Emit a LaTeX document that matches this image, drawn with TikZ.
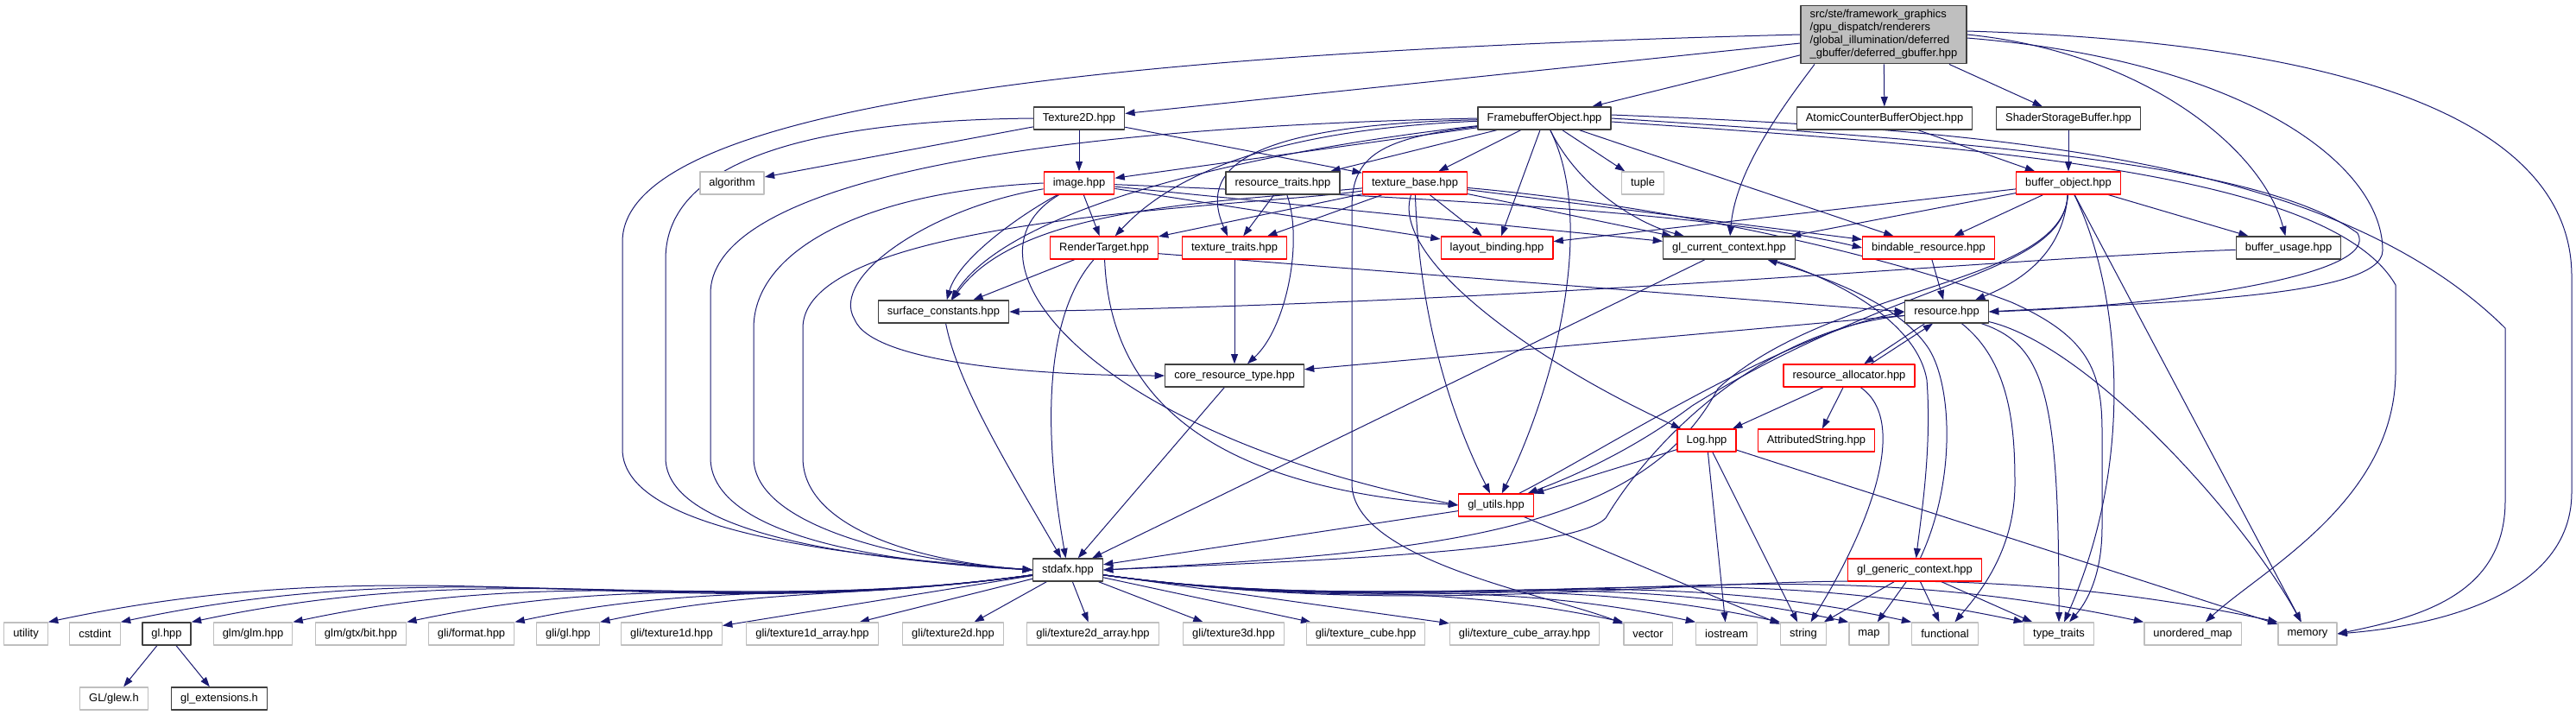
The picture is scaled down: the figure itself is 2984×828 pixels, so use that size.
\documentclass[tikz,border=0pt]{standalone}
\usepackage{fontspec}
\setmainfont{Liberation Sans}
\usetikzlibrary{arrows.meta}
\definecolor{dgEdge}{HTML}{191970}
\definecolor{dgGray}{HTML}{BFBFBF}
\definecolor{dgInk}{HTML}{404040}
\pgfdeclarelayer{wires}
\pgfsetlayers{wires,main}
\tikzset{
 incgraph/.style={x=.75pt,y=-.75pt,font=\fontsize{9.7}{11.2}\selectfont,line join=round},
 hdr/.style={rectangle,draw=dgInk,fill=white,line width=1pt,inner xsep=7.9pt,inner ysep=0pt,minimum height=19.5pt},
 hdrcut/.style={hdr,draw=red},
 hdrsys/.style={hdr,draw=dgGray},
 hdrtop/.style={hdr,fill=dgGray,align=left,inner ysep=4pt},
 dep/.style={draw=dgEdge,line width=.75pt,-{Triangle[length=8.5pt,width=6pt]}}
}

\begin{document}
\begin{tikzpicture}[incgraph]
 \useasboundingbox (0,0) rectangle (2984,828);
 % files, row by row
 \node[hdrtop] (root) at (2182,40) {src/ste/framework\_graphics\\/gpu\_dispatch/renderers\\/global\_illumination/deferred\\\_gbuffer/deferred\_gbuffer.hpp};
 \node[hdr] (tex2d) at (1250,137) {Texture2D.hpp};
 \node[hdr] (fbo) at (1789,137) {FramebufferObject.hpp};
 \node[hdr] (acbo) at (2183,137) {AtomicCounterBufferObject.hpp};
 \node[hdr] (ssbo) at (2396,137) {ShaderStorageBuffer.hpp};
 \node[hdrsys] (algo) at (848,212) {algorithm};
 \node[hdrcut] (image) at (1250,212) {image.hpp};
 \node[hdr] (restraits) at (1486,212) {resource\_traits.hpp};
 \node[hdrcut] (texbase) at (1639,212) {texture\_base.hpp};
 \node[hdrsys] (tuple) at (1903,212) {tuple};
 \node[hdrcut] (bufobj) at (2396,212) {buffer\_object.hpp};
 \node[hdrcut] (rtarget) at (1279,287) {RenderTarget.hpp};
 \node[hdrcut] (textraits) at (1430,287) {texture\_traits.hpp};
 \node[hdrcut] (layout) at (1734,287) {layout\_binding.hpp};
 \node[hdr] (glctx) at (2003,287) {gl\_current\_context.hpp};
 \node[hdrcut] (bindable) at (2234,287) {bindable\_resource.hpp};
 \node[hdr] (bufusage) at (2651,287) {buffer\_usage.hpp};
 \node[hdr] (surface) at (1093,361) {surface\_constants.hpp};
 \node[hdr] (resource) at (2255,361) {resource.hpp};
 \node[hdr] (coretype) at (1430,435) {core\_resource\_type.hpp};
 \node[hdrcut] (resalloc) at (2142,435) {resource\_allocator.hpp};
 \node[hdrcut] (logh) at (1977,510) {Log.hpp};
 \node[hdrcut] (attrstr) at (2104,510) {AttributedString.hpp};
 \node[hdrcut] (glutils) at (1733,585) {gl\_utils.hpp};
 \node[hdr] (stdafx) at (1237,660) {stdafx.hpp};
 \node[hdrcut] (glgen) at (2218,660) {gl\_generic\_context.hpp};
 % system headers
 \node[hdrsys] (utility) at (30,734) {utility};
 \node[hdrsys] (cstdint) at (110,734) {cstdint};
 \node[hdr] (glhpp) at (193,734) {gl.hpp};
 \node[hdrsys] (glmglm) at (293,734) {glm/glm.hpp};
 \node[hdrsys] (glmbit) at (418,734) {glm/gtx/bit.hpp};
 \node[hdrsys] (gliformat) at (546,734) {gli/format.hpp};
 \node[hdrsys] (gligl) at (658,734) {gli/gl.hpp};
 \node[hdrsys] (glitexa) at (778,734) {gli/texture1d.hpp};
 \node[hdrsys] (glitexb) at (941,734) {gli/texture1d\_array.hpp};
 \node[hdrsys] (glitexc) at (1104,734) {gli/texture2d.hpp};
 \node[hdrsys] (glitexd) at (1266,734) {gli/texture2d\_array.hpp};
 \node[hdrsys] (glitexe) at (1429,734) {gli/texture3d.hpp};
 \node[hdrsys] (glitexf) at (1582,734) {gli/texture\_cube.hpp};
 \node[hdrsys] (glitexg) at (1766,734) {gli/texture\_cube\_array.hpp};
 \node[hdrsys] (vector) at (1909,734) {vector};
 \node[hdrsys] (iostream) at (2000,734) {iostream};
 \node[hdrsys] (string) at (2089,734) {string};
 \node[hdrsys] (map) at (2165,734) {map};
 \node[hdrsys] (functional) at (2253,734) {functional};
 \node[hdrsys] (typetraits) at (2385,734) {type\_traits};
 \node[hdrsys] (unordmap) at (2540,734) {unordered\_map};
 \node[hdrsys] (memory) at (2673,734) {memory};
 \node[hdrsys] (glew) at (132,809) {GL/glew.h};
 \node[hdr] (glext) at (254,809) {gl\_extensions.h};

 \begin{pgfonlayer}{wires}
 % deferred_gbuffer.hpp
 \draw[dep] (root.west) .. controls (1300,60) and (721,120) .. (721,280) -- (721,520) .. controls (721,620) and (1000,645) .. (stdafx.west);
 \draw[dep] (root) -- (tex2d);
 \draw[dep] (root) -- (fbo);
 \draw[dep] ([xshift=-60pt]root.south) .. controls (2060,130) and (2010,200) .. (glctx);
 \draw[dep] (root) -- (acbo);
 \draw[dep] (root) -- (ssbo);
 \draw[dep] (root.east) .. controls (2480,60) and (2620,170) .. (bufusage);
 \draw[dep] ([yshift=-3pt]root.east) .. controls (2600,70) and (2760,190) .. (2760,290) .. controls (2760,345) and (2500,350) .. (resource.east);
 \draw[dep] ([yshift=3pt]root.east) .. controls (2750,50) and (2979,150) .. (2979,320) -- (2979,570) .. controls (2979,690) and (2820,725) .. (memory.east);
 % FramebufferObject.hpp
 \draw[dep] (fbo.west) .. controls (1100,150) and (823,230) .. (823,340) -- (823,530) .. controls (823,615) and (1000,650) .. (stdafx.west);
 \draw[dep] (fbo) -- (image);
 \draw[dep] (fbo) .. controls (1480,150) and (1360,200) .. (rtarget);
 \draw[dep] (fbo) .. controls (1430,145) and (1390,200) .. ([xshift=-6pt]textraits.north);
 \draw[dep] (fbo) -- (restraits);
 \draw[dep] (fbo) -- (texbase);
 \draw[dep] (fbo) -- (layout);
 \draw[dep] (fbo) -- (tuple);
 \draw[dep] (fbo) .. controls (1830,220) and (1900,260) .. (glctx);
 \draw[dep] (fbo) -- (bindable);
 \draw[dep] (fbo) .. controls (1850,260) and (1800,450) .. (glutils);
 \draw[dep] (fbo) .. controls (1450,175) and (1170,240) .. (surface);
 \draw[dep] (fbo.east) .. controls (2300,165) and (2620,190) .. (2731,270) .. controls (2760,320) and (2500,355) .. (resource.east);
 \draw[dep] ([yshift=3pt]fbo.east) .. controls (2300,150) and (2700,180) .. (2902,380) -- (2902,580) .. controls (2902,690) and (2800,715) .. (memory.east);
 \draw[dep] ([yshift=-3pt]fbo.east) .. controls (2300,170) and (2700,200) .. (2775,330) -- (2775,430) .. controls (2775,580) and (2620,660) .. (unordmap);
 \draw[dep] (fbo) .. controls (1600,160) and (1566,180) .. (1566,240) -- (1566,560) .. controls (1566,650) and (1800,690) .. (vector);
 % Texture2D.hpp
 \draw[dep] (tex2d.west) .. controls (900,140) and (771,200) .. (771,300) -- (771,530) .. controls (771,620) and (1000,648) .. (stdafx.west);
 \draw[dep] (tex2d) -- (algo);
 \draw[dep] (tex2d) -- (image);
 \draw[dep] (tex2d) -- (texbase);
 % image.hpp
 \draw[dep] (image.west) .. controls (1000,222) and (873,290) .. (873,380) -- (873,530) .. controls (873,610) and (1050,650) .. (stdafx.west);
 \draw[dep] (image) -- (rtarget);
 \draw[dep] (image) .. controls (1180,250) and (1110,300) .. (surface);
 \draw[dep] (image) .. controls (1080,240) and (960,320) .. (990,370) .. controls (1010,420) and (1200,435) .. (coretype.west);
 \draw[dep] (image) .. controls (1100,300) and (1260,500) .. (glutils.west);
 \draw[dep] (image) -- (layout);
 \draw[dep] (image) -- (glctx);
 \draw[dep] (image) .. controls (1700,230) and (2000,250) .. (bindable.west);
 % texture_base.hpp
 \draw[dep] (texbase) .. controls (1450,240) and (930,250) .. (930,380) -- (930,530) .. controls (930,610) and (1060,650) .. (stdafx.west);
 \draw[dep] (texbase) -- (textraits);
 \draw[dep] (texbase) -- (rtarget);
 \draw[dep] (texbase) .. controls (1400,235) and (1180,240) .. (surface);
 \draw[dep] (texbase) -- (layout);
 \draw[dep] (texbase) -- (glctx);
 \draw[dep] (texbase) -- (bindable);
 \draw[dep] (texbase) .. controls (1610,300) and (1780,420) .. (logh);
 \draw[dep] (texbase) .. controls (1645,400) and (1700,520) .. (glutils);
 \draw[dep] (texbase) .. controls (1950,240) and (2200,300) .. (2330,350) .. controls (2420,390) and (2435,430) .. (2435,500) -- (2435,610) .. controls (2435,670) and (2415,700) .. (typetraits);
 % resource_traits.hpp, texture_traits.hpp
 \draw[dep] (restraits) -- (textraits);
 \draw[dep] (restraits) .. controls (1510,280) and (1490,380) .. (coretype);
 \draw[dep] (textraits) -- (coretype);
 % RenderTarget.hpp
 \draw[dep] (rtarget) -- (surface);
 \draw[dep] (rtarget) .. controls (1215,360) and (1205,480) .. (stdafx);
 \draw[dep] (rtarget) .. controls (1285,430) and (1360,560) .. (glutils.west);
 \draw[dep] ([yshift=-5pt]rtarget.east) -- (resource.west);
 % small ones
 \draw[dep] (surface) .. controls (1110,450) and (1180,560) .. (stdafx);
 \draw[dep] (coretype) -- (stdafx);
 \draw[dep] (bindable) -- (resource);
 % gl_current_context.hpp, gl_generic_context.hpp
 \draw[dep] (glctx) -- (stdafx);
 \draw[dep] (glctx) .. controls (2120,320) and (2220,370) .. (2232,440) .. controls (2238,520) and (2225,600) .. (glgen);
 \draw[dep] (glgen) .. controls (2265,560) and (2262,450) .. (2235,405) .. controls (2200,350) and (2110,320) .. (glctx);
 \draw[dep] (glgen) -- (string);
 \draw[dep] (glgen) -- (map);
 \draw[dep] (glgen) -- (functional);
 \draw[dep] (glgen) -- (typetraits);
 % resource.hpp, resource_allocator.hpp
 \draw[dep] (resource) -- (coretype);
 \draw[dep] ([xshift=-19pt]resource.south) -- ([xshift=13pt]resalloc.north);
 \draw[dep] ([xshift=19pt]resalloc.north) -- ([xshift=-12pt]resource.south);
 \draw[dep] (resource) .. controls (2330,420) and (2334,500) .. (2334,560) .. controls (2334,640) and (2290,690) .. (functional);
 \draw[dep] (resource) .. controls (2370,400) and (2385,460) .. (typetraits);
 \draw[dep] (resource) .. controls (2420,400) and (2600,600) .. (memory);
 \draw[dep] (resource) .. controls (2050,380) and (1920,500) .. (1860,600) .. controls (1820,640) and (1500,650) .. (stdafx.east);
 \draw[dep] (resalloc) -- (logh);
 \draw[dep] (resalloc) -- (attrstr);
 \draw[dep] ([xshift=10pt]resalloc.south) .. controls (2215,490) and (2160,620) .. (string);
 % Log.hpp, gl_utils.hpp
 \draw[dep] (logh) -- (glutils);
 \draw[dep] (logh) -- (iostream);
 \draw[dep] (logh) -- (string);
 \draw[dep] (logh) -- (memory);
 \draw[dep] (glutils) -- (stdafx);
 \draw[dep] (glutils) -- (string);
 \draw[dep] (glutils) .. controls (1860,520) and (2060,390) .. (resource.west);
 % buffer_object.hpp
 \draw[dep] (acbo) -- (bufobj);
 \draw[dep] (ssbo) -- (bufobj);
 \draw[dep] (bufobj) -- (bindable);
 \draw[dep] (bufobj) -- (bufusage);
 \draw[dep] (bufobj) -- (layout);
 \draw[dep] (bufobj) -- (glctx);
 \draw[dep] (bufobj) .. controls (2390,300) and (2330,330) .. (resource);
 \draw[dep] (bufobj) .. controls (2390,320) and (2200,320) .. (1960,470) .. controls (1880,530) and (1800,560) .. (glutils);
 \draw[dep] (bufobj) .. controls (2390,330) and (2120,330) .. (1990,450) .. controls (1900,620) and (1650,640) .. (stdafx.east);
 \draw[dep] (bufobj) .. controls (2450,320) and (2480,520) .. (typetraits);
 \draw[dep] (bufobj) -- (memory);
 \draw[dep] (bufusage) .. controls (2300,300) and (1800,350) .. (surface.east);
 % stdafx.hpp fan-out
 \foreach \dst in {utility,cstdint,glhpp,glmglm,glmbit,gliformat,gligl}
  \draw[dep] (stdafx) to[out=188,in=12] (\dst.north east);
 \foreach \dst in {glitexa,glitexb,glitexc,glitexd,glitexe,glitexf,glitexg}
  \draw[dep] (stdafx) -- (\dst);
 \foreach \dst in {vector,iostream,string,map,functional,typetraits,unordmap,memory}
  \draw[dep] (stdafx) to[out=-8,in=168] (\dst.north west);
 \draw[dep] (glhpp) -- (glew);
 \draw[dep] (glhpp) -- (glext);
 \end{pgfonlayer}
\end{tikzpicture}
\end{document}
